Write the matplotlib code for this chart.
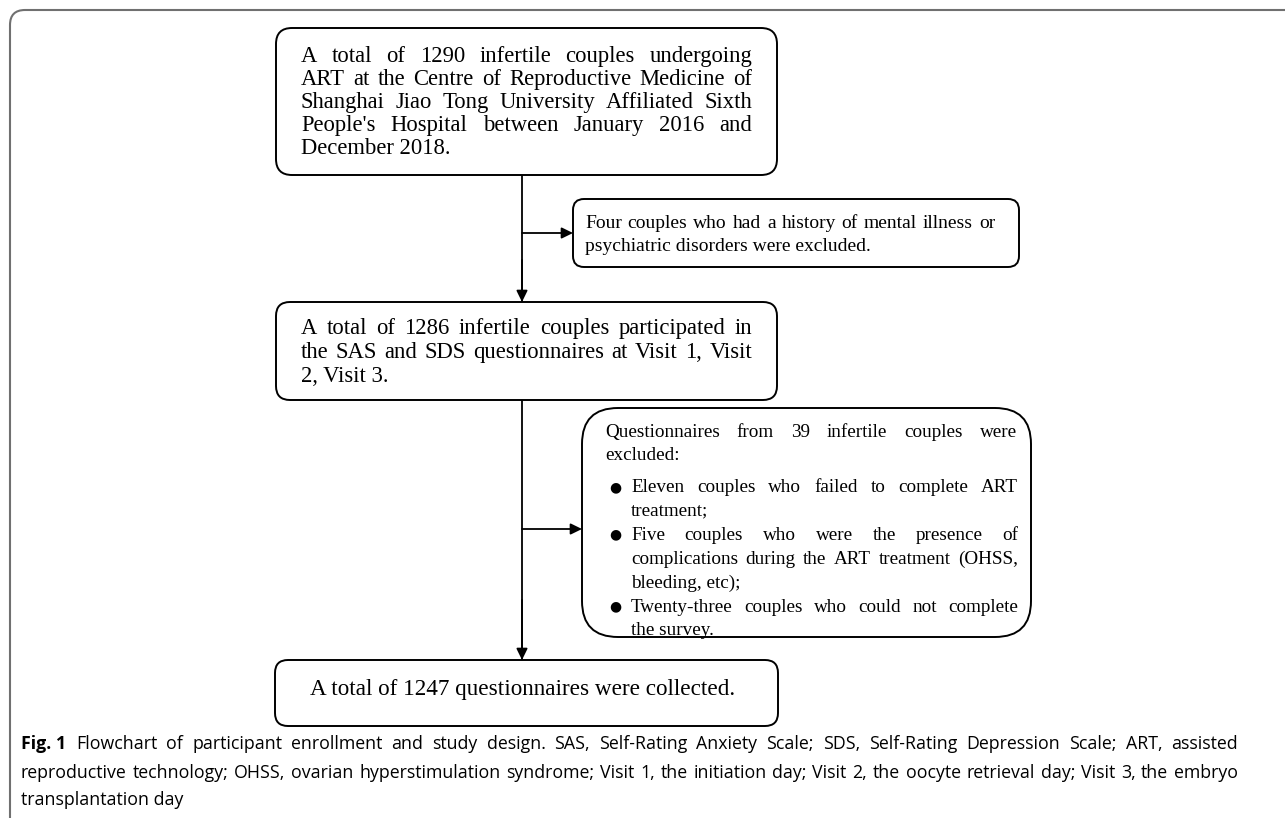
import matplotlib
matplotlib.use("Agg")
import matplotlib.pyplot as plt
from matplotlib.patches import FancyBboxPatch, FancyArrowPatch, PathPatch
from matplotlib.path import Path

# ---- texts of the flowchart ----
box1_lines = [
    "A total of 1290 infertile couples undergoing",
    "ART at the Centre of Reproductive Medicine of",
    "Shanghai Jiao Tong University Affiliated Sixth",
    "People's Hospital between January 2016 and",
    "December 2018.",
]
excl1_lines = [
    "Four couples who had a history of mental illness or",
    "psychiatric disorders were excluded.",
]
box2_lines = [
    "A total of 1286 infertile couples participated in",
    "the SAS and SDS questionnaires at Visit 1, Visit",
    "2, Visit 3.",
]
excl2_head = [
    "Questionnaires from 39 infertile couples were",
    "excluded:",
]
excl2_bullets = [
    ["Eleven couples who failed to complete ART", "treatment;"],
    ["Five couples who were the presence of",
     "complications during the ART treatment (OHSS,",
     "bleeding, etc);"],
    ["Twenty-three couples who could not complete", "the survey."],
]
box3_text = "A total of 1247 questionnaires were collected."

caption_bold = "Fig. 1"
caption_lines = [
    "Flowchart of participant enrollment and study design. SAS, Self-Rating Anxiety Scale; "
    "SDS, Self-Rating Depression Scale; ART, assisted",
    "reproductive technology; OHSS, ovarian hyperstimulation syndrome; Visit 1, the initiation day; "
    "Visit 2, the oocyte retrieval day; Visit 3, the embryo",
    "transplantation day",
]

W, H = 1285, 818
SERIF = ["Liberation Serif", "DejaVu Serif"]
SANS = ["Open Sans", "DejaVu Sans"]

fig = plt.figure(figsize=(W / 100, H / 100), dpi=100)
ax = fig.add_axes([0, 0, 1, 1])
ax.set_xlim(0, W)
ax.set_ylim(H, 0)
ax.axis("off")
renderer = fig.canvas.get_renderer()


def rbox(x0, y0, x1, y1, r):
    ax.add_patch(FancyBboxPatch((x0, y0), x1 - x0, y1 - y0,
                                boxstyle=f"round,pad=0,rounding_size={r}",
                                fc="white", ec="black", lw=1.4, zorder=2))


def arrow(p0, p1):
    ax.add_patch(FancyArrowPatch(p0, p1, arrowstyle="-|>,head_length=0.45,head_width=0.22",
                                 mutation_scale=15, lw=1.3, color="black",
                                 shrinkA=0, shrinkB=0, zorder=3))


def text_width(t):
    return t.get_window_extent(renderer).width


def draw_line(s, x0, x1, y, size, justify, family=SERIF):
    if not justify:
        ax.text(x0, y, s, fontsize=size, family=family, va="baseline", ha="left", zorder=4)
        return
    words = s.split()
    objs = [ax.text(x0, y, w, fontsize=size, family=family, va="baseline",
                    ha="left", zorder=4) for w in words]
    widths = [text_width(o) for o in objs]
    gap = (x1 - x0 - sum(widths)) / max(len(words) - 1, 1)
    gap = max(gap, size * 0.3)
    x = x0
    for o, w in zip(objs, widths):
        o.set_x(x)
        x += w + gap


def draw_par(lines, x0, x1, y0, step, size):
    for i, s in enumerate(lines):
        draw_line(s, x0, x1, y0 + i * step, size, i < len(lines) - 1)
    return y0 + len(lines) * step


# outer frame (top-left rounded corner)
r = 15
frame = Path([(10, H + 5), (10, 10 + r), (10, 10), (10 + r, 10), (W + 5, 10)],
             [Path.MOVETO, Path.LINETO, Path.CURVE3, Path.CURVE3, Path.LINETO])
ax.add_patch(PathPatch(frame, fc="none", ec="#707070", lw=1.5))

# boxes
rbox(276, 28, 777, 175, 16)
rbox(573, 199, 1019, 267, 11)
rbox(276, 302, 777, 400, 14)
rbox(582, 408, 1031, 637, 36)
rbox(275, 660, 778, 726, 13)

# connectors
cx = 522
ax.plot([cx, cx], [175, 302], color="black", lw=1.3, zorder=1)
arrow((cx, 260), (cx, 302))
arrow((cx, 233), (573, 233))
ax.plot([cx, cx], [400, 660], color="black", lw=1.3, zorder=1)
arrow((cx, 600), (cx, 660))
arrow((cx, 529), (582, 529))

# box texts
big = 16.3
draw_par(box1_lines, 301, 752, 62, 23, big)
draw_par(excl1_lines, 585, 995, 228, 23, 14.0)
draw_par(box2_lines, 301, 752, 334, 24, big)
small = 13.8
draw_par(excl2_head, 605, 1017, 437, 23.5, small)
y = 492
for item in excl2_bullets:
    ax.text(615, y - 5, "\u25cf", fontsize=10, family=["DejaVu Sans"], ha="center",
            va="center", zorder=4)
    y = draw_par(item, 631, 1018, y, 23.9, small)
ax.text(523, 695, box3_text, fontsize=16.7, family=SERIF, ha="center", va="baseline", zorder=4)

# caption (justified, bold figure label)
cap_size = 12.8
cap_x0, cap_x1 = 21, 1238
fb = ax.text(cap_x0, 749, caption_bold, fontsize=cap_size, family=SANS, weight="bold",
             va="baseline")
bx = cap_x0 + text_width(fb) + 10
draw_line(caption_lines[0], bx, cap_x1, 749, cap_size, True, family=SANS)
draw_line(caption_lines[1], cap_x0, cap_x1, 778, cap_size, True, family=SANS)
draw_line(caption_lines[2], cap_x0, cap_x1, 805, cap_size, False, family=SANS)

fig.savefig("out.png", dpi=100)
